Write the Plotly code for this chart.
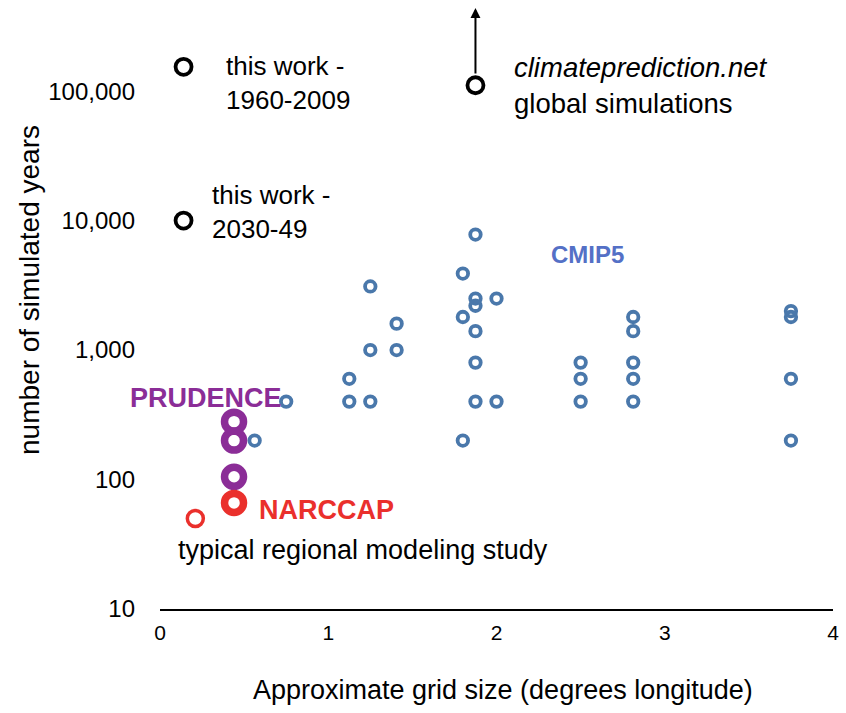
import math
import plotly.graph_objects as go

# ---- data ----
cmip5_x = [0.5625, 0.75, 1.125, 1.125, 1.25, 1.25, 1.25, 1.40625, 1.40625,
           1.8, 1.8, 1.8, 1.875, 1.875, 1.875, 1.875, 1.875, 1.875,
           2.0, 2.0, 2.5, 2.5, 2.5, 2.8125, 2.8125, 2.8125, 2.8125, 2.8125,
           3.75, 3.75, 3.75, 3.75]
cmip5_y = [200, 400, 600, 400, 3100, 1000, 400, 1600, 1000,
           3900, 1800, 200, 7800, 2500, 2200, 1400, 800, 400,
           2500, 400, 800, 600, 400, 1800, 1400, 800, 600, 400,
           2000, 1800, 600, 200]
prudence_x = [0.44, 0.44, 0.44]
prudence_y = [280, 200, 105]
narccap_x = [0.44]
narccap_y = [66]
typical_x = [0.21]
typical_y = [50]
thiswork_x = [0.14, 0.14]
thiswork_y = [154000, 10000]
cpdn_x = [1.875]
cpdn_y = [111000]

y_tickvals = [10, 100, 1000, 10000, 100000]
y_ticktext = ["10", "100", "1,000", "10,000", "100,000"]
x_tickvals = [0, 1, 2, 3, 4]

FONT = "Liberation Sans, Arial, Helvetica, sans-serif"
BLUE = "#4a78ab"
PURPLE = "#8b2d97"
RED = "#ea302c"

fig = go.Figure()
fig.add_trace(go.Scatter(x=cmip5_x, y=cmip5_y, mode="markers",
                         marker=dict(symbol="circle-open", size=10.5, color=BLUE,
                                     line=dict(width=3.8, color=BLUE)),
                         cliponaxis=False, showlegend=False))
fig.add_trace(go.Scatter(x=prudence_x, y=prudence_y, mode="markers",
                         marker=dict(symbol="circle-open", size=19, color=PURPLE,
                                     line=dict(width=7.5, color=PURPLE)),
                         cliponaxis=False, showlegend=False))
fig.add_trace(go.Scatter(x=narccap_x, y=narccap_y, mode="markers",
                         marker=dict(symbol="circle-open", size=19, color=RED,
                                     line=dict(width=7.5, color=RED)),
                         cliponaxis=False, showlegend=False))
fig.add_trace(go.Scatter(x=typical_x, y=typical_y, mode="markers",
                         marker=dict(symbol="circle-open", size=16, color=RED,
                                     line=dict(width=3.5, color=RED)),
                         cliponaxis=False, showlegend=False))
fig.add_trace(go.Scatter(x=thiswork_x, y=thiswork_y, mode="markers",
                         marker=dict(symbol="circle-open", size=16, color="black",
                                     line=dict(width=3.8, color="black")),
                         cliponaxis=False, showlegend=False))
fig.add_trace(go.Scatter(x=cpdn_x, y=cpdn_y, mode="markers",
                         marker=dict(symbol="circle-open", size=16, color="black",
                                     line=dict(width=3.8, color="black")),
                         cliponaxis=False, showlegend=False))

TXT = 27
ann = []
def label(text, x, logy, size=TXT, color="black", bold=False, xanchor="center"):
    ann.append(dict(text=(f"<b>{text}</b>" if bold else text), x=x, y=logy,
                    xref="x", yref="y", showarrow=False, xanchor=xanchor,
                    yanchor="middle", align="left",
                    font=dict(family=FONT, size=size, color=color)))

label("this work -<br>1960-2009", 0.383, 5.06, size=26, xanchor="left")
label("this work -<br>2030-49", 0.295, 4.067, size=26, xanchor="left")
label("<i>climateprediction.net</i><br>global simulations", 2.09, 5.044, size=27.5, xanchor="left")
label("CMIP5", 2.54, 3.741, size=24, color="#5470c6", bold=True)
label("PRUDENCE", 0.272, 2.631, size=27, color=PURPLE, bold=True)
label("NARCCAP", 0.99, 1.766, size=27, color=RED, bold=True)
label("typical regional modeling study", 1.204, 1.457, size=27)

# arrow above climateprediction.net point
ann.append(dict(x=cpdn_x[0], y=1.0, xref="x", yref="paper", ax=0, ay=67,
                axref="pixel", ayref="pixel", showarrow=True, arrowhead=2,
                arrowsize=1.0, arrowwidth=2, arrowcolor="black", text=""))

# axis titles
ann.append(dict(text="Approximate grid size (degrees longitude)", x=0.51, y=-0.134,
                xref="paper", yref="paper", showarrow=False, xanchor="center",
                yanchor="middle", font=dict(family=FONT, size=27, color="black")))
ann.append(dict(text="number of simulated years", x=-0.193, y=0.531,
                xref="paper", yref="paper", showarrow=False, xanchor="center",
                yanchor="middle", textangle=-90,
                font=dict(family=FONT, size=28, color="black")))

fig.update_layout(
    width=846, height=713,
    margin=dict(l=160, r=7, t=8, b=104),
    paper_bgcolor="white", plot_bgcolor="white",
    annotations=ann,
    xaxis=dict(range=[0, 4], tickvals=x_tickvals, showgrid=False, zeroline=False,
               showline=True, linecolor="black", linewidth=2, ticks="",
               ticklabelstandoff=4,
               tickfont=dict(family=FONT, size=21, color="black")),
    yaxis=dict(type="log", range=[1, 5.642], tickvals=y_tickvals, ticktext=y_ticktext,
               showgrid=False, zeroline=False, showline=False, ticks="",
               ticklabelstandoff=24,
               tickfont=dict(family=FONT, size=24, color="black")),
)

fig.write_html("out.html")
